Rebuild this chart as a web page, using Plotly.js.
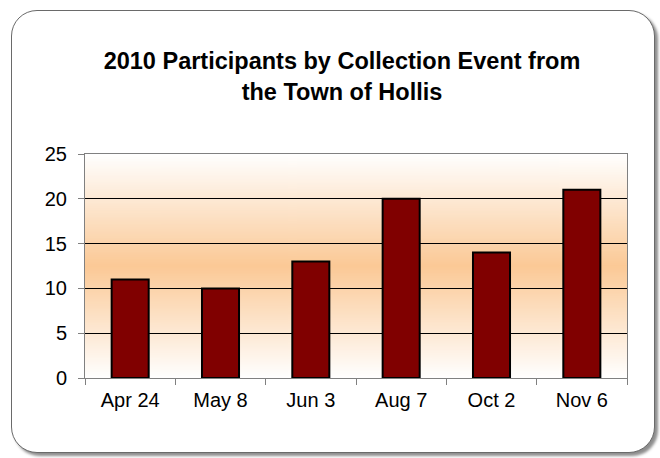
<!DOCTYPE html>
<html>
<head>
<meta charset="utf-8">
<script src="https://cdn.plot.ly/plotly-3.0.1.min.js"></script>
<style>
  html, body { margin: 0; padding: 0; background: #ffffff; }
  #wrap { position: relative; width: 660px; height: 458px; }
  #frame {
    position: absolute; left: 11px; top: 10px; width: 642px; height: 441px;
    border: 1.5px solid #6a6a6a; border-radius: 26px; background: #ffffff;
    box-shadow: 3px 3px 3px rgba(0,0,0,0.45);
  }
  #chart { position: absolute; left: 0; top: 0; width: 660px; height: 458px; }
</style>
</head>
<body>
<div id="wrap">
  <div id="frame"></div>
  <div id="chart"></div>
</div>
<script>
const categories = ["Apr 24", "May 8", "Jun 3", "Aug 7", "Oct 2", "Nov 6"];
const participants = [11, 10, 13, 20, 14, 21];
const yTicks = [0, 5, 10, 15, 20, 25];
const chartTitle = "2010 Participants by Collection Event from<br>the Town of Hollis";

// vertical gradient for plot background
const cv = document.createElement("canvas");
cv.width = 4; cv.height = 256;
const ctx = cv.getContext("2d");
const g = ctx.createLinearGradient(0, 0, 0, 256);
g.addColorStop(0, "#ffffff");
g.addColorStop(0.5, "#fbc996");
g.addColorStop(1, "#ffffff");
ctx.fillStyle = g;
ctx.fillRect(0, 0, 4, 256);
const bgSrc = cv.toDataURL("image/png");

const trace = {
  type: "bar",
  x: categories,
  y: participants,
  marker: { color: "#800000", line: { color: "#000000", width: 2 } },
  hoverinfo: "x+y"
};

const font = "Liberation Sans, Arial, sans-serif";

const layout = {
  width: 660, height: 458,
  margin: { l: 85, r: 33, t: 154, b: 80 },
  paper_bgcolor: "rgba(0,0,0,0)",
  plot_bgcolor: "rgba(0,0,0,0)",
  font: { family: font, color: "#000000", size: 20 },
  title: {
    text: "<b>" + chartTitle + "</b>",
    font: { family: font, size: 23.5, color: "#000000" },
    xref: "container", x: 342 / 660, xanchor: "center",
    yref: "container", y: 1 - 69 / 458, yanchor: "middle"
  },
  bargap: 0.59,
  showlegend: false,
  xaxis: {
    type: "category",
    tickson: "boundaries",
    ticks: "outside", ticklen: 6, tickcolor: "#808080", tickwidth: 1,
    showline: true, linecolor: "#808080", linewidth: 1, mirror: true,
    showgrid: false,
    tickfont: { family: font, size: 20, color: "#000000" },
    ticklabelstandoff: 4,
    fixedrange: true
  },
  yaxis: {
    range: [0, 25],
    tickvals: yTicks,
    ticks: "outside", ticklen: 6, tickcolor: "#808080", tickwidth: 1,
    showline: true, linecolor: "#808080", linewidth: 1, mirror: true,
    showgrid: true, gridcolor: "#000000", gridwidth: 1,
    zeroline: false,
    tickfont: { family: font, size: 20, color: "#000000" },
    ticklabelstandoff: 7,
    fixedrange: true
  },
  images: [{
    source: bgSrc, xref: "paper", yref: "paper",
    x: 0, y: 1, sizex: 1, sizey: 1, sizing: "stretch",
    xanchor: "left", yanchor: "top", layer: "below"
  }]
};

Plotly.newPlot("chart", [trace], layout, { displayModeBar: false, staticPlot: true });
</script>
</body>
</html>
